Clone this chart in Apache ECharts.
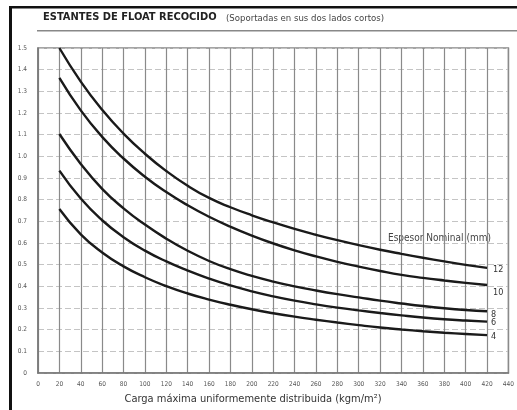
<!DOCTYPE html>
<html>
<head>
<meta charset="utf-8">
<script src="https://cdn.jsdelivr.net/npm/echarts@6/dist/echarts.min.js"></script>
<style>
html,body{margin:0;padding:0;background:#fff;}
#chart{width:517px;height:410px;}
</style>
</head>
<body>
<div id="chart"></div>
<script>
var xValues = [20,40,60,80,100,120,140,160,180,200,220,240,260,280,300,320,340,360,380,400,420];
var seriesNames = ['12','10','8','6','4'];
var s12 = [1.500,1.345,1.215,1.105,1.012,0.932,0.864,0.808,0.765,0.728,0.695,0.665,0.638,0.613,0.590,0.569,0.550,0.532,0.515,0.499,0.485];
var s10 = [1.362,1.212,1.090,0.990,0.906,0.835,0.774,0.721,0.675,0.634,0.598,0.566,0.538,0.513,0.491,0.471,0.453,0.439,0.427,0.416,0.406];
var s8  = [1.103,0.965,0.850,0.760,0.685,0.620,0.564,0.517,0.479,0.448,0.422,0.400,0.381,0.364,0.349,0.334,0.321,0.309,0.299,0.291,0.285];
var s6  = [0.934,0.805,0.705,0.627,0.565,0.515,0.473,0.436,0.404,0.377,0.354,0.334,0.317,0.302,0.289,0.277,0.266,0.256,0.248,0.242,0.237];
var s4  = [0.757,0.640,0.556,0.492,0.442,0.401,0.367,0.339,0.315,0.294,0.276,0.260,0.246,0.233,0.221,0.210,0.201,0.193,0.186,0.180,0.175];
var seriesValues = [s12, s10, s8, s6, s4];
var labelOffsets = [[3,2],[3,8],[1,3],[1,1],[1,2]];
var titleMain = 'ESTANTES DE FLOAT RECOCIDO';
var titleSub = '(Soportadas en sus dos lados cortos)';
var xAxisName = 'Carga máxima uniformemente distribuida (kgm/m²)';
var legendTitle = 'Espesor Nominal (mm)';

var FONT = '"Liberation Sans Narrow", "DejaVu Sans Condensed", sans-serif';
var chart = echarts.init(document.getElementById('chart'), null, {renderer:'canvas'});

function pairs(vals){ return xValues.map(function(x,i){ return [x, vals[i]]; }); }

var series = seriesNames.map(function(n, k){
  return {
    name: n,
    type: 'line',
    smooth: 0.5,
    symbol: 'none',
    data: pairs(seriesValues[k]),
    lineStyle: {color:'#1a1a1a', width: 2.4},
    endLabel: {show: true, formatter: n, color:'#333', fontSize: 9,
      fontFamily: FONT, distance: 3, offset: labelOffsets[k]},
    z: 5
  };
});

chart.setOption({
  animation: false,
  backgroundColor: '#fff',
  grid: {left: 38, right: 5, top: 48, bottom: 37, show: true, borderColor: '#888', borderWidth: 1.5},
  xAxis: {
    type: 'value', min: 0, max: 440, interval: 20,
    axisLine: {show: true, lineStyle: {color:'#777', width: 1.5}},
    axisTick: {show: false},
    axisLabel: {color:'#555', fontSize: 6.5, margin: 8, fontFamily: FONT, showMaxLabel: true},
    splitLine: {show: true, lineStyle: {color:'#8a8a8a', width: 1.2}}
  },
  yAxis: {
    type: 'value', min: 0, max: 1.5, interval: 0.1,
    axisLine: {show: true, lineStyle: {color:'#777', width: 1.5}},
    axisTick: {show: false},
    axisLabel: {color:'#555', fontSize: 6.5, margin: 11, fontFamily: FONT,
      formatter: function(v){ return v === 0 ? '0' : v.toFixed(1); }},
    splitLine: {show: true, lineStyle: {color:'#c4c4c4', width: 1, type: [6,3]}}
  },
  series: series,
  graphic: [
    {type:'rect', shape:{x:9, y:6, width:3, height:404}, style:{fill:'#111'}, silent:true},
    {type:'rect', shape:{x:9, y:6, width:508, height:2.5}, style:{fill:'#111'}, silent:true},
    {type:'rect', shape:{x:37, y:30, width:480, height:1.5}, style:{fill:'#888'}, silent:true},
    {type:'text', left: 43, top: 12, style:{text: titleMain, fill:'#222', font:'bold 11px ' + FONT}},
    {type:'text', left: 226, top: 14, style:{text: titleSub, fill:'#444', font:'9.5px ' + FONT}},
    {type:'text', left: 388, top: 233, style:{text: legendTitle, fill:'#444', font:'10px ' + FONT, backgroundColor:'#fff'}},
    {type:'text', x: 253, y: 394, style:{text: xAxisName, fill:'#333', font:'11px ' + FONT, textAlign:'center'}}
  ]
});
</script>
</body>
</html>
